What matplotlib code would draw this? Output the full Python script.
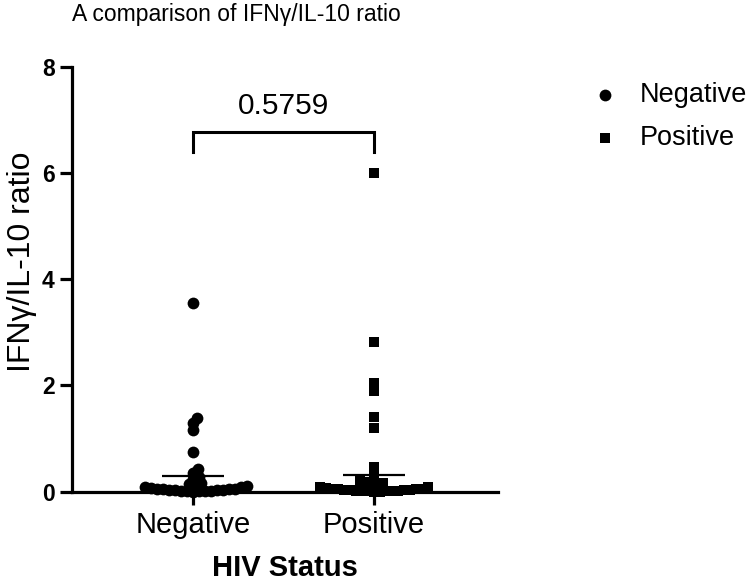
"""
Column scatter of IFNg/IL-10 ratio by HIV status (Prism-style dot plot).
Points are spread with a small beeswarm so overlapping values sit side by side.
"""

import matplotlib
matplotlib.use("Agg")
import matplotlib.pyplot as plt
import numpy as np

plt.rcParams["font.family"] = ["Liberation Sans", "DejaVu Sans"]

# --- data -----------------------------------------------------------------
groups = ["Negative", "Positive"]
markers = ["o", "s"]

negative = [3.55, 1.385, 1.30, 1.16, 0.74, 0.43, 0.35, 0.28, 0.23, 0.16,
            0.14, 0.11, 0.10, 0.09, 0.08, 0.07, 0.06, 0.06, 0.05, 0.05,
            0.04, 0.04, 0.03, 0.03, 0.02, 0.02, 0.02, 0.01, 0.01, 0.00]
positive = [6.00, 2.82, 2.05, 1.90, 1.41, 1.20, 0.47, 0.28, 0.20, 0.19,
            0.16, 0.12, 0.10, 0.09, 0.08, 0.07, 0.06, 0.06, 0.05, 0.05,
            0.04, 0.04, 0.03, 0.03, 0.02, 0.02, 0.02, 0.01, 0.01, 0.01,
            0.00, 0.00]
means = [0.29, 0.32]
sems = [0.14, 0.20]

p_value = "0.5759"
bracket_y = 6.78
bracket_drop = 0.38

title = "A comparison of IFN\u03b3/IL-10 ratio"
ylabel = "IFN\u03b3/IL-10 ratio"
xlabel = "HIV Status"
yticks = [0, 2, 4, 6, 8]

W, H, DPI = 750, 584, 100
AX_RECT = [72 / W, 1 - 491.7 / H, (498 - 72) / W, (491.7 - 66.7) / H]
XLIM = (-0.668, 1.685)
YLIM = (0, 8)


def swarm_offsets(values, px_x, px_y, min_dist=6.0, step=1.0):
    """Horizontal offsets (data units) so no two markers sit closer than min_dist px."""
    order = np.argsort(values)
    placed = []
    out = np.zeros(len(values))
    for i in order:
        y = values[i] * px_y
        k = 0
        while True:
            for dx in ((0.0,) if k == 0 else (k * step, -k * step)):
                if all(np.hypot(dx - px, y - py) >= min_dist for px, py in placed):
                    placed.append((dx, y))
                    out[i] = dx / px_x
                    break
            else:
                k += 1
                continue
            break
    return out


def main():
    fig = plt.figure(figsize=(W / DPI, H / DPI), dpi=DPI)
    ax = fig.add_axes(AX_RECT)
    ax.set_xlim(*XLIM)
    ax.set_ylim(*YLIM)

    px_x = AX_RECT[2] * W / (XLIM[1] - XLIM[0])
    px_y = AX_RECT[3] * H / (YLIM[1] - YLIM[0])

    for i, (name, vals, mk) in enumerate(zip(groups, [negative, positive], markers)):
        vals = np.asarray(vals)
        xs = i + swarm_offsets(vals, px_x, px_y)
        ax.scatter(xs, vals, marker=mk, s=72 if mk == "o" else 62, c="black",
                   linewidths=0, clip_on=False, zorder=3, label=name)
        # mean with SEM
        ax.plot([i - 0.17, i + 0.17], [means[i], means[i]], color="black",
                lw=1.6, zorder=4, solid_capstyle="butt")
        ax.plot([i, i], [max(means[i] - sems[i], 0), means[i] + sems[i]],
                color="black", lw=1.6, zorder=4)

    # significance bracket
    ax.plot([0, 0, 1, 1], [bracket_y - bracket_drop, bracket_y, bracket_y,
                           bracket_y - bracket_drop],
            color="black", lw=2.2, clip_on=False, solid_joinstyle="miter")
    ax.text(0.5, bracket_y + 0.22, p_value, ha="center", va="bottom", fontsize=21.5)

    for side in ("top", "right"):
        ax.spines[side].set_visible(False)
    for side in ("left", "bottom"):
        ax.spines[side].set_linewidth(2.3)
    ax.tick_params(width=2.3, length=9, labelsize=16.5)
    ax.set_yticks(yticks)
    for lab in ax.get_yticklabels():
        lab.set_fontweight("bold")
    ax.set_xticks(range(len(groups)))
    ax.set_xticklabels(groups, fontsize=21)
    ax.tick_params(axis="x", pad=5)

    ax.set_ylabel(ylabel, fontsize=23)
    ax.yaxis.set_label_coords(-0.083, (491.7 - 262) / 425)
    ax.set_xlabel(xlabel, fontsize=21, fontweight="bold", labelpad=11)
    fig.text(72 / W, 1 - 15 / H, title, fontsize=16.5, ha="left", va="center")

    ax.legend(loc="upper left", bbox_to_anchor=(567 / W, 1 - 58 / H),
              bbox_transform=fig.transFigure, frameon=False, fontsize=19.5,
              handlelength=1.0, handletextpad=0.8, labelspacing=0.62,
              markerscale=1.0)

    fig.savefig("out.png", dpi=DPI, facecolor="white")
    plt.close(fig)


if __name__ == "__main__":
    main()
